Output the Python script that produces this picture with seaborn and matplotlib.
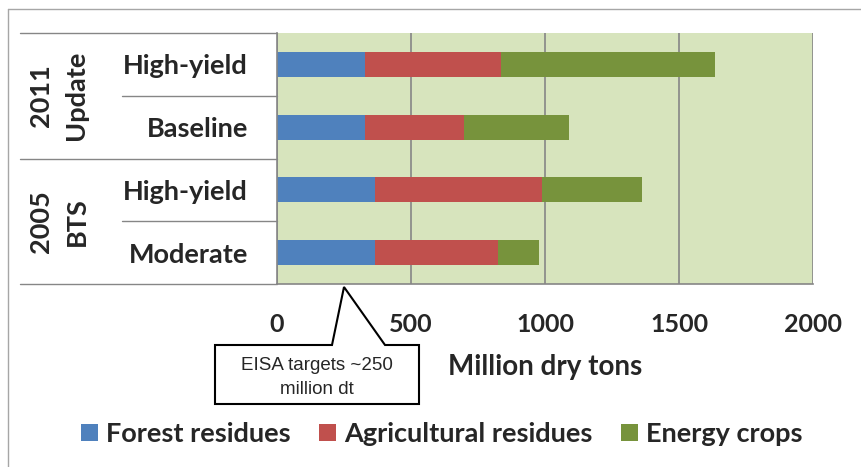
import matplotlib
matplotlib.use("Agg")
import matplotlib.pyplot as plt
import matplotlib.transforms as mtransforms
from matplotlib.patches import Polygon, Patch
from matplotlib.lines import Line2D
import seaborn as sns
import pandas as pd

# Biomass supply estimates (million dry tons) by study and scenario
studies = ["2011\nUpdate", "2011\nUpdate", "2005\nBTS", "2005\nBTS"]
scenarios = ["High-yield", "Baseline", "High-yield", "Moderate"]
forest = [328, 328, 367, 367]
agricultural = [508, 370, 621, 456]
energy = [797, 392, 375, 156]
x_ticks = [0, 500, 1000, 1500, 2000]
eisa_target = 250

series_names = ["Forest residues", "Agricultural residues", "Energy crops"]
BLUE, RED, GREEN = "#4F81BD", "#C0504D", "#77933C"
PLOT_BG = "#D7E4BD"
GRID = "#868686"
FRAME = "#A6A6A6"
LABEL_SIZE = 19.5

W, H = 862, 467
sns.set_style("white")
plt.rcParams["font.family"] = ["Lato", "DejaVu Sans"]
plt.rcParams["font.weight"] = "bold"

fig = plt.figure(figsize=(W / 100, H / 100), dpi=100)


def fx(px):
    return px / W


def fy(py):
    return 1 - py / H


ax = fig.add_axes([fx(277), fy(284), fx(813) - fx(277), fy(33) - fy(284)])

df = pd.DataFrame({
    "row": [f"{s}|{c}|{i}" for i, (s, c) in enumerate(zip(studies, scenarios))],
    "forest": forest,
    "agricultural": agricultural,
    "energy": energy,
})
df["to_agri"] = df["forest"] + df["agricultural"]
df["total"] = df["to_agri"] + df["energy"]

# stacked bars: draw cumulative totals back to front
for col, color in [("total", GREEN), ("to_agri", RED), ("forest", BLUE)]:
    sns.barplot(data=df, x=col, y="row", color=color, width=0.4, ax=ax,
                orient="h", saturation=1, edgecolor="none", linewidth=0)

ax.set_facecolor(PLOT_BG)
ax.set_xlim(0, 2000)
ax.set_ylim(3.5, -0.5)
ax.set_xticks(x_ticks)
ax.set_xticklabels([str(t) for t in x_ticks], fontsize=18, fontweight="bold")
ax.set_yticks(range(len(scenarios)))
ax.set_yticklabels(scenarios, fontsize=LABEL_SIZE, fontweight="bold")
ax.tick_params(axis="y", length=0, pad=21)
ax.tick_params(axis="x", length=9, width=1.2, color=GRID, pad=12)
ax.xaxis.grid(True, color=GRID, linewidth=1.2)
ax.yaxis.grid(False)
ax.set_axisbelow(True)
for side in ["top", "right"]:
    ax.spines[side].set_visible(False)
for side in ["left", "bottom"]:
    ax.spines[side].set_color(GRID)
    ax.spines[side].set_linewidth(1.2)

ax.set_ylabel("")
ax.set_xlabel("Million dry tons", fontsize=20, fontweight="bold")
ax.xaxis.set_label_coords(0.5, -0.33)
ax.xaxis.label.set_va("center")

# category table on the left: group labels and separators
blend = mtransforms.blended_transform_factory(fig.transFigure, ax.transData)
x_axis = fx(277)
for y in [-0.5, 1.5, 3.5]:
    fig.add_artist(Line2D([fx(20), x_axis], [y, y], transform=blend,
                          color=GRID, linewidth=1.0, clip_on=False))
for y in [0.5, 2.5]:
    fig.add_artist(Line2D([fx(122), x_axis], [y, y], transform=blend,
                          color=GRID, linewidth=1.0, clip_on=False))

groups = []
for i, s in enumerate(studies):
    if not groups or groups[-1][0] != s:
        groups.append([s, [i]])
    else:
        groups[-1][1].append(i)
for name, idx in groups:
    yc = sum(idx) / len(idx)
    fig.text(fx(59), yc, name, transform=blend, rotation=90, ha="center",
             va="center", multialignment="center", fontsize=LABEL_SIZE,
             fontweight="bold", linespacing=1.55)

# outer chart frame
fig.add_artist(Line2D([fx(8), 1], [fy(9), fy(9)], color=FRAME, linewidth=1.0))
fig.add_artist(Line2D([fx(8), fx(8)], [fy(9), 0], color=FRAME, linewidth=1.0))

# callout pointing at the EISA target on the value axis
apex_px = ax.transData.transform((eisa_target, 0))[0]
apex_y = 287
box_l, box_r, box_t, box_b = 215, 419, 345, 404
verts = [(box_l, box_t), (332, box_t), (apex_px, apex_y), (385, box_t),
         (box_r, box_t), (box_r, box_b), (box_l, box_b)]
callout = Polygon([(fx(x), fy(y)) for x, y in verts], closed=True,
                  transform=fig.transFigure, facecolor="white",
                  edgecolor="black", linewidth=1.5, clip_on=False)
fig.add_artist(callout)
fig.text(fx((box_l + box_r) / 2), fy(377.5), "EISA targets ~250\nmillion dt",
         ha="center", va="center", multialignment="center", fontsize=13.5,
         fontweight="normal", linespacing=1.6,
         family=["Liberation Sans Narrow", "Liberation Sans", "DejaVu Sans"])

handles = [Patch(facecolor=c, edgecolor="none") for c in (BLUE, RED, GREEN)]
fig.legend(handles, series_names, loc="center", bbox_to_anchor=(fx(442), fy(434)),
           ncol=3, frameon=False, handlelength=0.62,
           handleheight=0.62, handletextpad=0.3, columnspacing=1.05,
           prop={"weight": "bold", "size": 19.5})

fig.savefig("out.png", dpi=100)
